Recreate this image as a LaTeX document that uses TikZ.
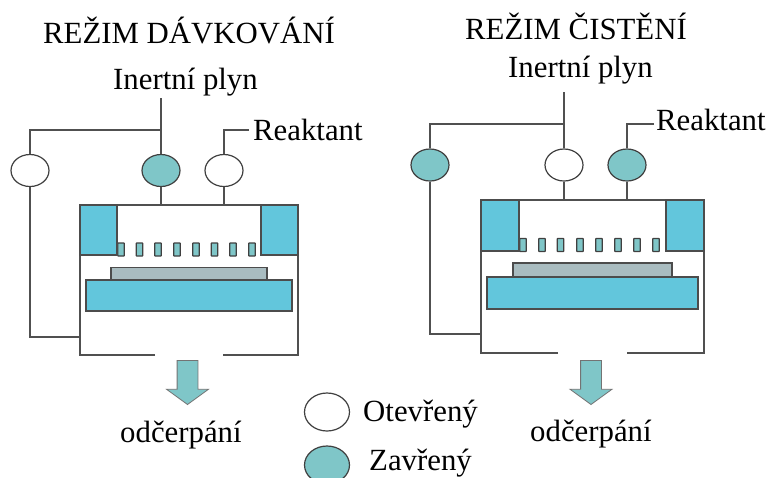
\documentclass[tikz,border=0pt]{standalone}
\usepackage{fontspec}
\setmainfont{Liberation Serif}
\usetikzlibrary{shapes.geometric,shapes.arrows}
\definecolor{lineg}{HTML}{505050}
\definecolor{tealv}{HTML}{7FC6C8}
\definecolor{bluep}{HTML}{62C6DC}
\definecolor{greyw}{HTML}{A9BCC0}
\tikzset{
  wire/.style={draw=lineg,line width=1.3pt,line join=miter},
  valveopen/.style={ellipse,draw=black!75,line width=1.2pt,fill=white,minimum width=38pt,minimum height=32pt,inner sep=0pt},
  valveshut/.style={valveopen,fill=tealv},
  bluebox/.style={rectangle,draw=black!70,line width=1.1pt,fill=bluep,inner sep=0pt},
  waferbox/.style={rectangle,draw=black!70,line width=1.1pt,fill=greyw,inner sep=0pt},
  slat/.style={rectangle,rounded corners=0.5pt,draw=black!75,line width=1.1pt,fill=tealv,inner sep=0pt,minimum width=6.5pt,minimum height=13pt},
  label/.style={anchor=base west,inner sep=0pt,font=\fontsize{30.8}{33}\selectfont,text=black},
  pumparrow/.style={single arrow,draw=black!55,line width=0.8pt,fill=tealv,shape border rotate=270,inner sep=10pt,
    minimum height=44pt,single arrow head extend=10.5pt,single arrow head indent=0pt,single arrow tip angle=108,anchor=tip},
}
\begin{document}
\begin{tikzpicture}[x=1pt,y=-1pt]
\useasboundingbox (0,0) rectangle (769,477);
\clip (0,0) rectangle (769,477);
\fill[white] (0,0) rectangle (769,477);

% --- left: dosing mode
\node[label] (t1) at (43,43) {REŽIM DÁVKOVÁNÍ};
\node[label] (i1) at (113,89) {Inertní plyn};
\node[label] (r1) at (253,140) {Reaktant};
\coordinate (i1top) at (161,98);
\coordinate (i1j) at (161,130);
\coordinate (r1end) at (249,130);
\coordinate (c1tl) at (80,205);
\coordinate (c1tr) at (298,205);
\coordinate (c1bl) at (80,355);
\coordinate (c1br) at (298,355);
\coordinate (g1l) at (155,355);
\coordinate (g1r) at (223,355);
\coordinate (p1) at (80,337);
\node[valveopen] (a1) at (30,170.5) {};
\node[valveshut] (b1) at (161,170.5) {};
\node[valveopen] (c1) at (224,170.5) {};
\draw[wire] (i1top) -- (b1.north);
\draw[wire] (i1j) -| (a1.north);
\draw[wire] (a1.south) |- (p1);
\draw[wire] (r1end) -| (c1.north);
\draw[wire] (b1.south) -- (b1.south |- c1tl);
\draw[wire] (c1.south) -- (c1.south |- c1tl);
\draw[wire] (g1l) -- (c1bl) -- (c1tl) -- (c1tr) -- (c1br) -- (g1r);
\foreach \n/\x in {1/121,2/139.5,3/158,4/177,5/196,6/214.5,7/233,8/252}
  \node[slat] (s1\n) at (\x,249.5) {};
\node[bluebox,minimum width=37pt,minimum height=50pt] (bl1) at (98.5,230) {};
\node[bluebox,minimum width=37pt,minimum height=50pt] (br1) at (279.5,230) {};
\node[waferbox,minimum width=156pt,minimum height=12.5pt] (w1) at (189,274) {};
\node[bluebox,minimum width=206pt,minimum height=31pt] (d1) at (189,295.5) {};
\node[pumparrow] (ar1) at (187.5,405) {};
\node[label] (o1) at (120,442) {odčerpání};

% --- right: purge mode
\node[label] (t2) at (465,39) {REŽIM ČISTĚNÍ};
\node[label] (i2) at (508,77) {Inertní plyn};
\node[label] (r2) at (656,130) {Reaktant};
\coordinate (i2top) at (564,92);
\coordinate (i2j) at (564,124);
\coordinate (r2end) at (654,124);
\coordinate (c2tl) at (481,200);
\coordinate (c2tr) at (704,200);
\coordinate (c2bl) at (481,353);
\coordinate (c2br) at (704,353);
\coordinate (g2l) at (558,353);
\coordinate (g2r) at (627,353);
\coordinate (p2) at (481,334);
\node[valveshut] (a2) at (430,165) {};
\node[valveopen] (b2) at (564,165) {};
\node[valveshut] (c2) at (627,165) {};
\draw[wire] (i2top) -- (b2.north);
\draw[wire] (i2j) -| (a2.north);
\draw[wire] (a2.south) |- (p2);
\draw[wire] (r2end) -| (c2.north);
\draw[wire] (b2.south) -- (b2.south |- c2tl);
\draw[wire] (c2.south) -- (c2.south |- c2tl);
\draw[wire] (g2l) -- (c2bl) -- (c2tl) -- (c2tr) -- (c2br) -- (g2r);
\foreach \n/\x in {1/523,2/542,3/560.5,4/580,5/599,6/618,7/637,8/656}
  \node[slat] (s2\n) at (\x,245) {};
\node[bluebox,minimum width=38pt,minimum height=51pt] (bl2) at (500,225.5) {};
\node[bluebox,minimum width=38pt,minimum height=51pt] (br2) at (685,225.5) {};
\node[waferbox,minimum width=159pt,minimum height=14pt] (w2) at (592.5,270) {};
\node[bluebox,minimum width=211pt,minimum height=32pt] (d2) at (592.5,293) {};
\node[pumparrow] (ar2) at (591,405) {};
\node[label] (o2) at (530,441) {odčerpání};

% --- legend
\node[valveopen,minimum width=45pt,minimum height=38pt] (lo) at (327,412) {};
\node[valveshut,minimum width=45pt,minimum height=38pt] (ls) at (327,465) {};
\node[label] (lo1) at (363,421) {Otevřený};
\node[label] (ls1) at (369,470) {Zavřený};
\end{tikzpicture}
\end{document}
